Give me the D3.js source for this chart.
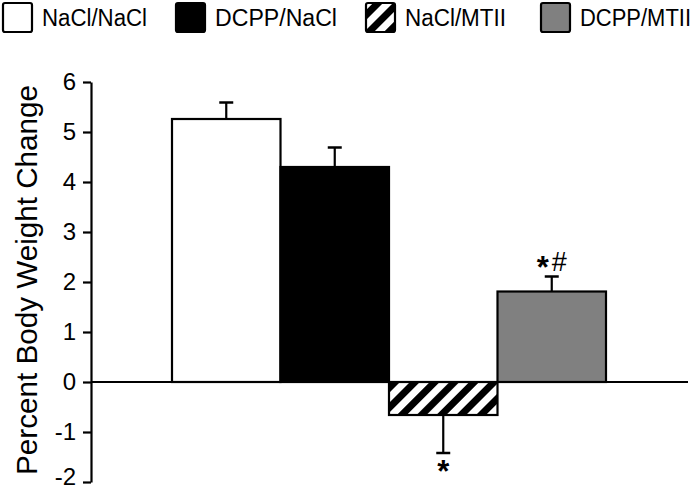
<!DOCTYPE html>
<html><head><meta charset="utf-8">
<script src="https://cdn.jsdelivr.net/npm/d3@7"></script>
<style>body{margin:0;background:#fff}svg{display:block;font-family:"Liberation Sans",Arial,sans-serif}</style>
</head><body>
<script>
const categories = ["NaCl/NaCl","DCPP/NaCl","NaCl/MTII","DCPP/MTII"];
const values = [5.26, 4.30, -0.66, 1.81];
const errors = [0.33, 0.39, 0.76, 0.30];
const fills = ["#ffffff","#000000","url(#hatch)","#808080"];
const annotations = ["", "", "*", "*#"];
const yTicks = [-2,-1,0,1,2,3,4,5,6];

const W=696,H=490;
const svg=d3.select("body").append("svg").attr("width",W).attr("height",H);
const defs=svg.append("defs");
const pat=defs.append("pattern").attr("id","hatch").attr("patternUnits","userSpaceOnUse")
  .attr("width",14).attr("height",14).attr("patternTransform","rotate(45)");
pat.append("rect").attr("width",14).attr("height",14).attr("fill","#fff");
pat.append("rect").attr("x",0).attr("width",7).attr("height",14).attr("fill","#000");

const y=d3.scaleLinear().domain([-2,6]).range([482,82]);
const x=d3.scaleBand().domain(categories).range([172,606]).paddingInner(0).paddingOuter(0);
const axisX=91;

// y axis
const yAxis=d3.axisLeft(y).tickValues(yTicks).tickSize(8).tickSizeOuter(0).tickFormat(d=>String(d));
const ga=svg.append("g").attr("transform",`translate(${axisX},0)`).call(yAxis);
ga.select(".domain").attr("stroke","#000").attr("stroke-width",2.2);
ga.selectAll(".tick line").attr("stroke","#000").attr("stroke-width",2.2);
ga.selectAll(".tick text").attr("font-size",24).attr("font-family","Liberation Sans, Arial, sans-serif").attr("fill","#000").attr("x",-15)
  .attr("dy",d=>d===-2?"0.12em":"0.32em");

svg.append("text").attr("transform",`translate(37,280) rotate(-90)`)
  .attr("text-anchor","middle").attr("font-size",29).attr("fill","#000")
  .attr("textLength",390).attr("lengthAdjust","spacingAndGlyphs").text("Percent Body Weight Change");

// error bars
const eb=svg.append("g");
categories.forEach((c,i)=>{
  const cx=x(c)+x.bandwidth()/2;
  const v=values[i], e=values[i]>=0?values[i]+errors[i]:values[i]-errors[i];
  eb.append("line").attr("x1",cx).attr("x2",cx).attr("y1",y(v)).attr("y2",y(e)).attr("stroke","#000").attr("stroke-width",2.2);
  eb.append("line").attr("x1",cx-7).attr("x2",cx+7).attr("y1",y(e)).attr("y2",y(e)).attr("stroke","#000").attr("stroke-width",2.5);
});

// bars
svg.append("g").selectAll("rect").data(categories).join("rect")
  .attr("x",d=>x(d)).attr("width",x.bandwidth())
  .attr("y",(d,i)=>y(Math.max(0,values[i])))
  .attr("height",(d,i)=>Math.abs(y(values[i])-y(0)))
  .attr("fill",(d,i)=>fills[i]).attr("stroke","#000").attr("stroke-width",2.2);

// baseline
svg.append("line").attr("x1",axisX).attr("x2",688).attr("y1",y(0)).attr("y2",y(0)).attr("stroke","#000").attr("stroke-width",2.2);

// annotations
categories.forEach((c,i)=>{
  if(!annotations[i]) return;
  const cx=x(c)+x.bandwidth()/2;
  const v=values[i], e=v>=0?v+errors[i]:v-errors[i];
  const base = v>=0 ? y(e)+1.5 : y(e)+29;
  const t=svg.append("text").attr("x",cx).attr("y",base).attr("text-anchor","middle").attr("fill","#000");
  let prevBig=true;
  annotations[i].split("").forEach((ch,k)=>{
    const big = ch==="*";
    const ts=t.append("tspan").text(ch).attr("font-size",big?31:27).attr("font-weight",big?"bold":"normal");
    if(k>0){
      if(prevBig && !big) ts.attr("dy",-7).attr("dx",3);
      else if(!prevBig && big) ts.attr("dy",7);
    }
    prevBig=big;
  });
});

// legend
const legX=[2,175,365,540];
const legW=[105,122,101,111];
const lg=svg.append("g");
categories.forEach((c,i)=>{
  lg.append("rect").attr("x",legX[i]+1).attr("y",3).attr("width",29).attr("height",29).attr("rx",2)
    .attr("fill",fills[i]).attr("stroke","#000").attr("stroke-width",2.2);
  lg.append("text").attr("x",legX[i]+40).attr("y",26).attr("font-size",23).attr("fill","#000")
    .attr("textLength",legW[i]).attr("lengthAdjust","spacingAndGlyphs").text(c);
});
</script>
</body></html>
